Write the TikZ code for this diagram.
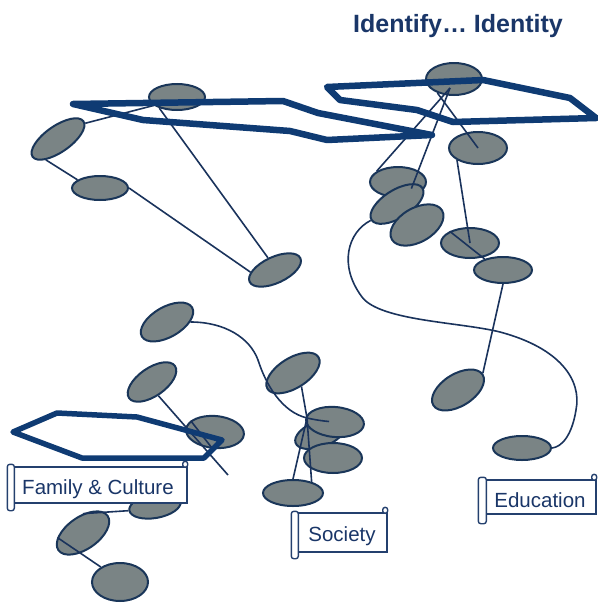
\documentclass[tikz,border=0pt]{standalone}
\usepackage{fontspec}
\setmainfont{Liberation Sans}
\usetikzlibrary{shapes.geometric,calc}
\definecolor{blobfill}{HTML}{7A8485}
\definecolor{blobline}{HTML}{1A3659}
\definecolor{hexline}{HTML}{0F3B73}
\definecolor{linkc}{HTML}{1A335C}
\definecolor{titlec}{HTML}{1A3668}
\definecolor{bannerc}{HTML}{24406E}
\begin{document}
\begin{tikzpicture}[x=1pt,y=-1pt,
 blob/.style={ellipse, draw=blobline, fill=blobfill, line width=2pt, inner sep=0pt},
 sz/.style 2 args={minimum width=2*#1, minimum height=2*#2},
 link/.style={draw=linkc, line width=1.6pt},
 hexa/.style={draw=hexline, line width=6.5pt, line join=round},
 bannerbox/.style={draw=bannerc, fill=white, line width=1.4pt, rectangle, inner sep=0pt},
 rollbox/.style={draw=bannerc, fill=white, line width=1.4pt, rounded corners=2.5pt},
 bannertext/.style={anchor=base, text=titlec, font=\fontsize{20.5}{24}\selectfont},
]
\useasboundingbox (0,0) rectangle (597,605);

% ---------- top-left group ----------
\node[blob, sz={28}{13}] (E1) at (177,97) {};
\node[blob, sz={31}{13}, rotate=35] (E2) at (58,139) {};
\node[blob, sz={28}{12}] (E3) at (100,188) {};
\node[blob, sz={28}{13}, rotate=25] (E4) at (275,270) {};
\draw[link] (E1.200) -- (E2.-5);
\draw[link] (E2.205) -- (E3.160);
\draw[link] (E3.east) -- (E4.160);
\draw[link] (E1.212) -- (E4.95);

% ---------- top-right group ----------
\node[blob, sz={28}{16}] (F1) at (454,79) {};
\node[blob, sz={29}{16}] (F2) at (478,148) {};
\node[blob, sz={28}{15}] (F3) at (398,182) {};
\node[blob, sz={30}{14}, rotate=32] (F4) at (397,204) {};
\node[blob, sz={29}{17}, rotate=30] (F5) at (417,225) {};
\node[blob, sz={29}{15}] (F6) at (470,243) {};
\node[blob, sz={29}{13}] (F7) at (503,270) {};
\node[blob, sz={29}{16}, rotate=32] (G1) at (458,390) {};
\node[blob, sz={29}{12}] (G2) at (522,448) {};
\coordinate (hub) at ($(F1.center)+(-4,9)$);
\draw[link] (hub) -- (F3.153);
\draw[link] (hub) -- ($(F4.center)!0.75!(F4.15)$);
\draw[link] (F1.220) -- (F2.center);
\draw[link] (F2.210) -- (F6.center);
\draw[link] (F6.150) -- (F7.149);
\draw[link] (F7.south) -- (G1.2);
\draw[link] (F4.west) .. controls (348,232) and (338,265) .. (362,297)
  .. controls (380,321) and (460,322) .. (500,332)
  .. controls (560,348) and (582,380) .. (576,410)
  .. controls (572,435) and (562,447) .. (G2.east);

% ---------- lower-left group ----------
\node[blob, sz={29}{15}, rotate=30] (H1) at (167,322) {};
\node[blob, sz={28}{14}, rotate=35] (H2) at (152,382) {};
\node[blob, sz={29}{16}, rotate=-5] (H3) at (215,432) {};
\node[blob, sz={26}{12}, rotate=10] (H4) at (155,506) {};
\node[blob, sz={30}{16}, rotate=35] (H5) at (83,533) {};
\node[blob, sz={28}{19}] (H6) at (120,582) {};
\coordinate (h3tail) at (228,475);
\draw[link] (H2.-100) -- (h3tail);
\draw[link] (H3.160) -- (H3.267);
\draw[link] (H4.west) -- (H5.55);
\draw[link] (H5.155) -- (H6.142);

% ---------- society group ----------
\node[blob, sz={30}{15}, rotate=32] (S1) at (293,373) {};
\node[blob, sz={26}{13}, rotate=20] (S3) at (320,434) {};
\node[blob, sz={29}{15}, rotate=-5] (S2) at (335,422) {};
\node[blob, sz={29}{15}] (S4) at (333,458) {};
\node[blob, sz={30}{13}] (S5) at (293,493) {};
\coordinate (sj) at (307,418);
\draw[link] (S1.south) -- (sj) -- (S5.north);
\draw[link] (sj) -- (S5.31);
\draw[link] (H1.-30) .. controls (225,322) and (250,338) .. (258,360)
  .. controls (266,385) and (282,412) .. (sj)
  .. controls (316,420) and (323,421) .. ($(S2.center)!0.2!(S2.west)$);

% ---------- hexagons ----------
\draw[hexa] (73,104) -- (283,101) -- (318,113) -- (432,135) -- (327,140) -- (290,131) -- (143,120) -- cycle;
\draw[hexa] (327,87) -- (483,80) -- (570,98) -- (596,118) -- (453,122) -- (417,110) -- (340,100) -- cycle;
\draw[hexa, line width=5.5pt] (13,432) -- (57,413) -- (137,417) -- (222,440) -- (204,458) -- (82,458) -- cycle;

% ---------- banners ----------
\node[bannerbox, minimum width=174, minimum height=36] (famb) at (100,485) {};
\draw[rollbox] ($(famb.north west)+(-5,-2)$) rectangle ($(famb.south west)+(2,7)$);
\draw[rollbox] ($(famb.north east)+(-5,-5)$) rectangle ($(famb.north east)+(0,1)$);
\node[bannertext] (famt) at (98,494) {Family \& Culture};

\node[bannerbox, minimum width=89, minimum height=39] (socb) at (342.5,532.5) {};
\draw[rollbox] ($(socb.north west)+(-6,-1)$) rectangle ($(socb.south west)+(1,6)$);
\draw[rollbox] ($(socb.north east)+(-5,-5)$) rectangle ($(socb.north east)+(0,1)$);
\node[bannertext] (soct) at (342,541) {Society};

\node[bannerbox, minimum width=110, minimum height=34] (edub) at (541,497) {};
\draw[rollbox] ($(edub.north west)+(-7,-2)$) rectangle ($(edub.south west)+(1,9)$);
\draw[rollbox] ($(edub.north east)+(-5,-5)$) rectangle ($(edub.north east)+(0,1)$);
\node[bannertext] (edut) at (540,507) {Education};

% ---------- title ----------
\node[anchor=base, text=titlec, font=\bfseries\fontsize{25}{30}\selectfont] (title) at (458,32) {Identify… Identity};
\end{tikzpicture}
\end{document}
